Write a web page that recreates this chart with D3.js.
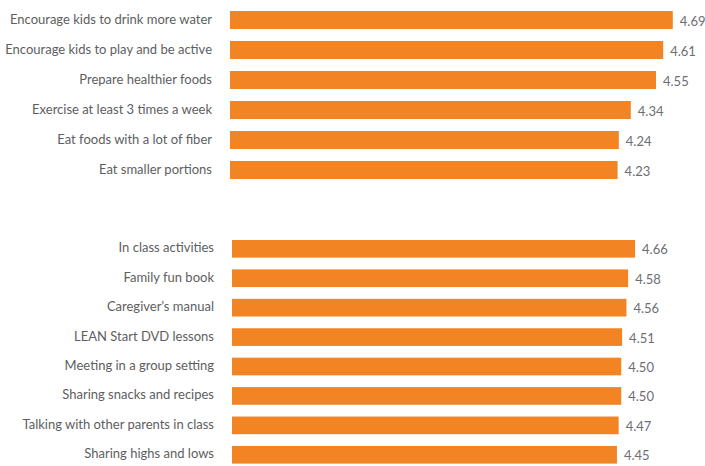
<!DOCTYPE html>
<html>
<head>
<meta charset="utf-8">
<title>Ratings</title>
<style>
  body { margin: 0; background: #fff; }
  text { font-family: Lato, sans-serif; }
</style>
</head>
<body>
<svg width="705" height="466" id="chart"></svg>
<script src="https://cdnjs.cloudflare.com/ajax/libs/d3/7.8.5/d3.min.js"></script>
<script>

// top block: behaviours
let topLabels = [
  "Encourage kids to drink more water",
  "Encourage kids to play and be active",
  "Prepare healthier foods",
  "Exercise at least 3 times a week",
  "Eat foods with a lot of fiber",
  "Eat smaller portions"
];
let topValues = [4.69, 4.61, 4.55, 4.34, 4.24, 4.23];

// bottom block: program parts
let bottomLabels = [
  "In class activities",
  "Family fun book",
  "Caregiver\u2019s manual",
  "LEAN Start DVD lessons",
  "Meeting in a group setting",
  "Sharing snacks and recipes",
  "Talking with other parents in class",
  "Sharing highs and lows"
];
let bottomValues = [4.66, 4.58, 4.56, 4.51, 4.50, 4.50, 4.47, 4.45];

let barColor = "#f28424";
let labelColor = "#5d5e60";
let valueColor = "#6d6e71";

let svg = d3.select("#chart");

// the two blocks were not drawn on the same scale in the original
let xTop = d3.scaleLinear().domain([1, 5]).range([230, 710]);
let yTop = d3.scaleBand().domain(topLabels).range([5, 185])
  .paddingInner(0.4).paddingOuter(0.2);

let xBottom = d3.scaleLinear().domain([0, 5]).range([232, 664.5]);
let yBottom = d3.scaleBand().domain(bottomLabels).range([234.1, 469.5])
  .paddingInner(0.4).paddingOuter(0.2);

function drawBlock(labels, values, x, y, labelX) {
  let rows = labels.map(function(l, i) { return {label: l, value: values[i]}; });
  let g = svg.append("g");

  g.selectAll("rect")
    .data(rows)
    .enter()
    .append("rect")
    .attr("x", x.range()[0])
    .attr("y", function(d) { return y(d.label); })
    .attr("width", function(d) { return x(d.value) - x.range()[0]; })
    .attr("height", y.bandwidth())
    .style("fill", barColor);

  g.selectAll("text.label")
    .data(rows)
    .enter()
    .append("text")
    .attr("class", "label")
    .attr("x", labelX)
    .attr("y", function(d) { return y(d.label) + y.bandwidth() / 2 - 1; })
    .attr("dy", "0.35em")
    .attr("text-anchor", "end")
    .attr("font-size", 13)
    .style("fill", labelColor)
    .text(function(d) { return d.label; });

  g.selectAll("text.value")
    .data(rows)
    .enter()
    .append("text")
    .attr("class", "value")
    .attr("x", function(d) { return x(d.value) + 7; })
    .attr("y", function(d) { return y(d.label) + y.bandwidth() / 2 + 1; })
    .attr("dy", "0.35em")
    .attr("font-size", 13)
    .style("fill", valueColor)
    .text(function(d) { return d3.format(".2f")(d.value); });
}

drawBlock(topLabels, topValues, xTop, yTop, 212);
drawBlock(bottomLabels, bottomValues, xBottom, yBottom, 214);

</script>
</body>
</html>
